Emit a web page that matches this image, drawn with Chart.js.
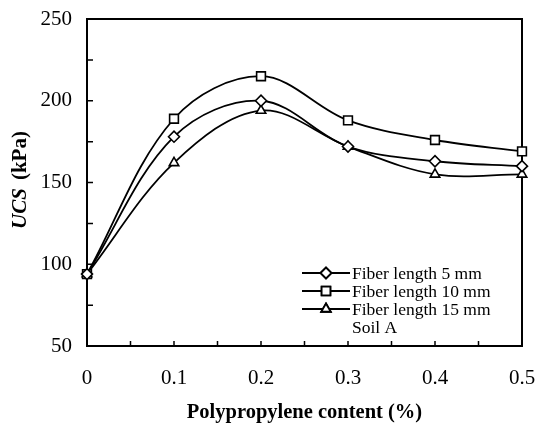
<!DOCTYPE html>
<html>
<head>
<meta charset="utf-8">
<script src="https://cdn.jsdelivr.net/npm/chart.js@4/dist/chart.umd.min.js"></script>
<style>
    html, body { margin: 0; padding: 0; background: #fff; }
</style>
</head>
<body>
<canvas id="ucsChart" width="538" height="425"></canvas>
<script>
// values
const contents = [0, 0.1, 0.2, 0.3, 0.4, 0.5];
const ucsFiber5 = [94, 178, 200, 172, 163, 160];
const ucsFiber10 = [94, 189, 215, 188, 176, 169];
const ucsFiber15 = [94, 162, 194, 172, 155, 155];
const seriesNames = ['Fiber length 5 mm', 'Fiber length 10 mm', 'Fiber length 15 mm'];
const legendNote = 'Soil A';
const xTickValues = [0, 0.1, 0.2, 0.3, 0.4, 0.5];
const yTickValues = [50, 100, 150, 200, 250];
const xMinorStep = 0.05;
const yMinorStep = 25;

const serif = "'Liberation Serif', 'Times New Roman', serif";

function toPoints(values) {
    return contents.map((c, i) => ({x: c, y: values[i]}));
}

function makeSet(label, values, style, radius) {
    return {
        label: label,
        data: toPoints(values),
        borderColor: '#000',
        borderWidth: 1.8,
        backgroundColor: '#fff',
        pointStyle: style,
        pointRadius: radius,
        pointBorderWidth: 1.6,
        pointBackgroundColor: '#fff',
        pointBorderColor: '#000',
        tension: 0.35,
        clip: false
    };
}

// box round the plot, inward tick marks
const frameTicks = {
    id: 'frameTicks',
    beforeDatasetsDraw(chart) {
        const ctx = chart.ctx;
        const a = chart.chartArea;
        const x = chart.scales.x;
        const y = chart.scales.y;
        ctx.save();
        ctx.strokeStyle = '#000';
        ctx.lineWidth = 2;
        ctx.strokeRect(a.left, a.top, a.right - a.left, a.bottom - a.top);

        ctx.lineWidth = 1.5;
        ctx.beginPath();
        const nx = Math.round((x.max - x.min) / xMinorStep);
        for (let i = 1; i < nx; i++) {
            const px = x.getPixelForValue(x.min + i * xMinorStep);
            ctx.moveTo(px, a.bottom);
            ctx.lineTo(px, a.bottom - 5);
        }
        const ny = Math.round((y.max - y.min) / yMinorStep);
        for (let i = 1; i < ny; i++) {
            const py = y.getPixelForValue(y.min + i * yMinorStep);
            ctx.moveTo(a.left, py);
            ctx.lineTo(a.left + 6, py);
        }
        ctx.stroke();
        ctx.restore();
    },
    afterDraw(chart) {
        const ctx = chart.ctx;
        ctx.save();

        // y title: italic UCS + (kPa)
        ctx.translate(21, 180);
        ctx.rotate(-Math.PI / 2);
        ctx.fillStyle = '#000';
        ctx.textBaseline = 'middle';
        ctx.font = 'italic bold 21px ' + serif;
        const w1 = ctx.measureText('UCS').width;
        ctx.font = 'bold 21px ' + serif;
        const w2 = ctx.measureText('(kPa)').width;
        const gap = 8;
        const start = -(w1 + gap + w2) / 2;
        ctx.textAlign = 'left';
        ctx.font = 'italic bold 21px ' + serif;
        ctx.fillText('UCS', start, 0);
        ctx.font = 'bold 21px ' + serif;
        ctx.fillText('(kPa)', start + w1 + gap, 0);
        ctx.restore();

        // legend inside the plot, line through marker
        ctx.save();
        ctx.font = '17.5px ' + serif;
        ctx.fillStyle = '#000';
        ctx.textBaseline = 'middle';
        ctx.textAlign = 'left';
        const rowY = [273, 291, 309];
        chart.data.datasets.forEach((ds, i) => {
            const yy = rowY[i];
            ctx.strokeStyle = '#000';
            ctx.lineWidth = 1.8;
            ctx.beginPath();
            ctx.moveTo(302, yy);
            ctx.lineTo(350, yy);
            ctx.stroke();
            Chart.helpers.drawPoint(ctx, {
                pointStyle: ds.pointStyle,
                radius: ds.pointRadius,
                borderWidth: ds.pointBorderWidth,
                rotation: 0
            }, 326, yy);
            ctx.fillStyle = '#fff';
            ctx.fill();
            ctx.stroke();
            ctx.fillStyle = '#000';
            ctx.fillText(ds.label, 352, yy + 1);
        });
        ctx.fillText(legendNote, 352, 328);
        ctx.restore();
    }
};

const ctx = document.getElementById('ucsChart');

new Chart(ctx, {
    type: 'line',
    data: {
        datasets: [
            makeSet(seriesNames[0], ucsFiber5, 'rectRot', 5.5),
            makeSet(seriesNames[1], ucsFiber10, 'rect', 6.2),
            makeSet(seriesNames[2], ucsFiber15, 'triangle', 5.5)
        ]
    },
    options: {
        responsive: false,
        animation: false,
        layout: {
            padding: {left: 0, right: 16, top: 19, bottom: 0}
        },
        plugins: {
            legend: {display: false},
            tooltip: {enabled: false}
        },
        scales: {
            x: {
                type: 'linear',
                min: 0,
                max: 0.5,
                afterBuildTicks: (s) => {
                    s.ticks = xTickValues.map(v => ({value: v}));
                },
                afterFit: (s) => {
                    s.height = 79;
                    s.paddingLeft = 0;
                    s.paddingRight = 0;
                },
                grid: {display: false, drawTicks: false},
                border: {display: false},
                ticks: {
                    color: '#000',
                    padding: 20,
                    maxRotation: 0,
                    font: {family: serif, size: 21},
                    callback: (v) => v === 0 ? '0' : v.toFixed(1)
                },
                title: {
                    display: true,
                    text: 'Polypropylene content (%)',
                    color: '#000',
                    font: {family: serif, size: 20.5, weight: 'bold'},
                    padding: {top: 0, bottom: 0}
                }
            },
            y: {
                type: 'linear',
                min: 50,
                max: 250,
                afterBuildTicks: (s) => {
                    s.ticks = yTickValues.map(v => ({value: v}));
                },
                afterFit: (s) => {
                    s.width = 87;
                    s.paddingTop = 0;
                    s.paddingBottom = 0;
                },
                grid: {display: false, drawTicks: false},
                border: {display: false},
                ticks: {
                    color: '#000',
                    padding: 15,
                    font: {family: serif, size: 21}
                }
            }
        }
    },
    plugins: [frameTicks]
});
</script>
</body>
</html>
